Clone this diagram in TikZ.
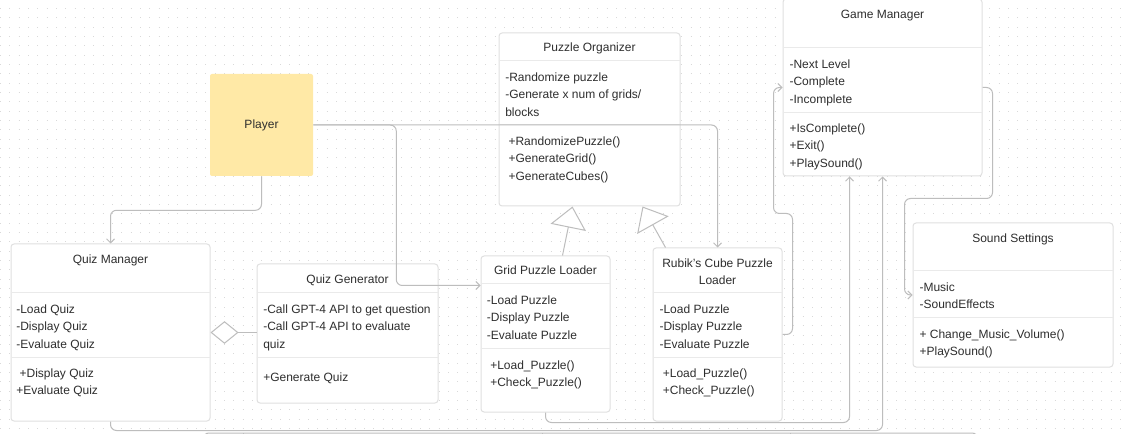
\documentclass[tikz,border=0pt]{standalone}
\usepackage{fontspec}
\setmainfont{Liberation Sans}
\usetikzlibrary{arrows.meta,fit,calc}

\definecolor{dotgray}{HTML}{D9D9D9}
\definecolor{boxline}{HTML}{E0E0E0}
\definecolor{sepgray}{HTML}{EAEAEA}
\definecolor{linkgray}{HTML}{BDBDBD}
\definecolor{txtgray}{HTML}{2E2E2E}
\definecolor{playeryellow}{HTML}{FFE9A6}

\tikzset{
  classbox/.style={draw=boxline,fill=white,rounded corners=2.25pt,inner sep=0pt,line width=0.75pt},
  playerbox/.style={fill=playeryellow,rounded corners=1.5pt,inner sep=0pt},
  titletxt/.style={anchor=base,inner sep=0pt,text=txtgray,font=\fontsize{9}{13.1}\selectfont},
  titlewrap/.style={anchor=north,align=center,inner sep=0pt,text=txtgray,font=\fontsize{9}{13.1}\selectfont,execute at begin node=\strut},
  membtxt/.style={anchor=north west,align=left,inner sep=0pt,text=txtgray,font=\fontsize{9}{13.1}\selectfont,execute at begin node=\strut,yshift=-3.4pt},
  sepline/.style={draw=sepgray,line width=0.75pt},
  conn/.style={draw=linkgray,line width=0.75pt,rounded corners=4.5pt,-{Straight Barb[length=3pt,width=6pt]}},
  inherit/.style={draw=linkgray,line width=0.75pt,-{Triangle[open,length=16pt,width=27pt,fill=white]}},
  aggreg/.style={draw=linkgray,line width=0.75pt,{Diamond[open,length=21pt,width=17pt,fill=white]}-},
  dotrow/.style={draw=dotgray,line width=0.75pt,dash pattern=on 0.75pt off 6.25pt},
}

\begin{document}
\begin{tikzpicture}[x=0.75pt,y=-0.75pt]
    \useasboundingbox[fill=white] (0,0) rectangle (1127,434);
    \foreach \r in {0,...,45} \draw[dotrow] (0,{8.5+9.33*\r}) -- (1127,{8.5+9.33*\r});
    % Player ================================================
    \node[playerbox,fit={(210,74) (313,176)}] (pl) {};
    \node[titletxt,anchor=center] (pltxt) at (pl.center) {Player};
    % Quiz ==================================================
    \node[classbox,fit={(11,244) (210,421)}] (qm) {};
    \node[titletxt] (qmtitle) at (110.5,263.3) {Quiz Manager};
    \draw[sepline] (qm.west |- 0,293) -- (qm.east |- 0,293);
    \draw[sepline] (qm.west |- 0,357) -- (qm.east |- 0,357);
    \node[membtxt] (qmattr) at (16,300) {-Load Quiz\\-Display Quiz\\-Evaluate Quiz};
    \node[membtxt] (qmmeth) at (16,364) {~+Display Quiz\\+Evaluate Quiz};

    \node[classbox,fit={(257,264) (438,403)}] (qg) {};
    \node[titletxt] (qgtitle) at (347.5,283.3) {Quiz Generator};
    \draw[sepline] (qg.west |- 0,293) -- (qg.east |- 0,293);
    \draw[sepline] (qg.west |- 0,357) -- (qg.east |- 0,357);
    \node[membtxt] (qgattr) at (263,300) {-Call GPT-4 API to get question\\-Call GPT-4 API to evaluate\\quiz};
    \node[membtxt] (qgmeth) at (263,364) {+Generate Quiz};
    % Puzzles ===============================================
    \node[classbox,fit={(499,33) (680,206)}] (po) {};
    \node[titletxt] (potitle) at (589.5,51.3) {Puzzle Organizer};
    \draw[sepline] (po.west |- 0,61) -- (po.east |- 0,61);
    \draw[sepline] (po.west |- 0,125) -- (po.east |- 0,125);
    \node[membtxt] (poattr) at (505,68) {-Randomize puzzle\\-Generate x num of grids/\\blocks};
    \node[membtxt] (pometh) at (508.3,132) {+RandomizePuzzle()\\+GenerateGrid()\\+GenerateCubes()};

    \node[classbox,fit={(481,256) (610,412)}] (gpl) {};
    \node[titletxt] (gpltitle) at (545.5,274.3) {Grid Puzzle Loader};
    \draw[sepline] (gpl.west |- 0,284) -- (gpl.east |- 0,284);
    \draw[sepline] (gpl.west |- 0,348) -- (gpl.east |- 0,348);
    \node[membtxt] (gplattr) at (486.7,291) {-Load Puzzle\\-Display Puzzle\\-Evaluate Puzzle};
    \node[membtxt] (gplmeth) at (490,356) {+Load\_Puzzle()\\+Check\_Puzzle()};

    \node[classbox,fit={(653,248) (782,421)}] (rcl) {};
    \node[titlewrap] (rcltitle) at (717.5,258.5) {Rubik's Cube Puzzle\\Loader};
    \draw[sepline] (rcl.west |- 0,293) -- (rcl.east |- 0,293);
    \draw[sepline] (rcl.west |- 0,357) -- (rcl.east |- 0,357);
    \node[membtxt] (rclattr) at (659.3,300) {-Load Puzzle\\-Display Puzzle\\-Evaluate Puzzle};
    \node[membtxt] (rclmeth) at (662.6,364) {+Load\_Puzzle()\\+Check\_Puzzle()};
    % Game ==================================================
    \node[classbox,fit={(783,-1) (982,176)}] (gm) {};
    \node[titletxt] (gmtitle) at (882.5,18.3) {Game Manager};
    \draw[sepline] (gm.west |- 0,48) -- (gm.east |- 0,48);
    \draw[sepline] (gm.west |- 0,113) -- (gm.east |- 0,113);
    \node[membtxt] (gmattr) at (789.3,55) {-Next Level\\-Complete\\-Incomplete};
    \node[membtxt] (gmmeth) at (789.3,119) {+IsComplete()\\+Exit()\\+PlaySound()};

    \node[classbox,fit={(913,223) (1113,367)}] (ss) {};
    \node[titletxt] (sstitle) at (1013,242.3) {Sound Settings};
    \draw[sepline] (ss.west |- 0,271) -- (ss.east |- 0,271);
    \draw[sepline] (ss.west |- 0,318) -- (ss.east |- 0,318);
    \node[membtxt] (ssattr) at (919.3,278) {-Music\\-SoundEffects};
    \node[membtxt] (ssmeth) at (919.3,325) {+ Change\_Music\_Volume()\\+PlaySound()};
    % Links =================================================
    \coordinate (split) at ($(pl.east)+(83,0)$);
    \coordinate (gplin) at ($(gpl.north west)+(0,30)$);
    \draw[conn] (pl.south) -- ++(0,34) -| (qm.north);
    \draw[conn] (pl.east) -| (rcl.north);
    \draw[conn] (pl.east) -- (split) |- (gplin);
    \draw[aggreg] (qm.east) -- (qg.west |- qm.east);
    \draw[inherit] ($(gpl.north)+(17,0)$) -- ($(po.south west)+(74,0)$);
    \draw[inherit] ($(rcl.north)+(-52,0)$) -- ($(po.south west)+(144,0)$);
    \draw[conn] (rcl.east) -- ++(10,0) -- ++(0,-121) -- ++(-19,0) |- (gm.west);
    \draw[conn] (gm.east) -- ++(10,0) -- ++(0,111) -- ++(-88,0) |- (ss.west);
    \draw[conn] (gpl.south) -- ++(0,10) -| ($(gm.south)+(-33,0)$);
    \draw[conn] (qm.south) -- ++(0,9) -| (gm.south);
    % cut off at the bottom
    \coordinate (cutl) at (203,446);
    \draw[conn,-] (cutl) -- ++(0,-13) -- ++(775,0) -- ++(0,13);
    \foreach \tx in {243,542,790} \draw[conn,-] (\tx,433) -- ++(0,6);
\end{tikzpicture}
\end{document}
